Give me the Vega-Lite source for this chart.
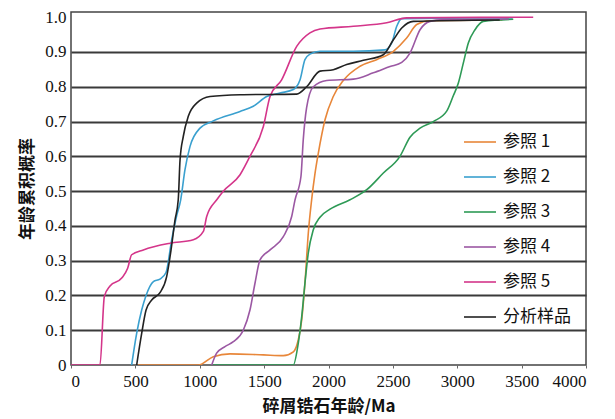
{
  "$schema": "https://vega.github.io/schema/vega-lite/v6.json",
  "width": 515,
  "height": 353,
  "autosize": "none",
  "padding": {"left": 71, "top": 12, "right": 29, "bottom": 54},
  "background": "white",
  "config": {
    "view": {"stroke": "#444", "strokeWidth": 1.5},
    "axis": {"labelFont": "Liberation Serif", "labelFontSize": 17, "labelColor": "#111", "titleFont": "Noto Sans CJK SC", "titleFontSize": 16, "titleFontWeight": "bold", "titleColor": "#111", "domain": false}
  },
  "data": {"values": [
    {"s": "参照 1", "x": 520, "y": 0}, {"s": "参照 1", "x": 990, "y": 0}, {"s": "参照 1", "x": 1105, "y": 0.024}, {"s": "参照 1", "x": 1235, "y": 0.032}, {"s": "参照 1", "x": 1494, "y": 0.029}, {"s": "参照 1", "x": 1649, "y": 0.027}, {"s": "参照 1", "x": 1727, "y": 0.038}, {"s": "参照 1", "x": 1765, "y": 0.072}, {"s": "参照 1", "x": 1792, "y": 0.13}, {"s": "参照 1", "x": 1817, "y": 0.235}, {"s": "参照 1", "x": 1843, "y": 0.379}, {"s": "参照 1", "x": 1869, "y": 0.475}, {"s": "参照 1", "x": 1895, "y": 0.55}, {"s": "参照 1", "x": 1921, "y": 0.609}, {"s": "参照 1", "x": 1973, "y": 0.705}, {"s": "参照 1", "x": 2037, "y": 0.772}, {"s": "参照 1", "x": 2115, "y": 0.818}, {"s": "参照 1", "x": 2245, "y": 0.859}, {"s": "参照 1", "x": 2374, "y": 0.878}, {"s": "参照 1", "x": 2504, "y": 0.902}, {"s": "参照 1", "x": 2607, "y": 0.94}, {"s": "参照 1", "x": 2685, "y": 0.979}, {"s": "参照 1", "x": 2788, "y": 0.99}, {"s": "参照 1", "x": 3350, "y": 0.992},
    {"s": "参照 2", "x": 471, "y": 0}, {"s": "参照 2", "x": 510, "y": 0.091}, {"s": "参照 2", "x": 549, "y": 0.158}, {"s": "参照 2", "x": 583, "y": 0.2}, {"s": "参照 2", "x": 640, "y": 0.24}, {"s": "参照 2", "x": 691, "y": 0.247}, {"s": "参照 2", "x": 738, "y": 0.266}, {"s": "参照 2", "x": 782, "y": 0.36}, {"s": "参照 2", "x": 821, "y": 0.43}, {"s": "参照 2", "x": 852, "y": 0.475}, {"s": "参照 2", "x": 885, "y": 0.561}, {"s": "参照 2", "x": 924, "y": 0.628}, {"s": "参照 2", "x": 1002, "y": 0.681}, {"s": "参照 2", "x": 1105, "y": 0.702}, {"s": "参照 2", "x": 1313, "y": 0.729}, {"s": "参照 2", "x": 1416, "y": 0.744}, {"s": "参照 2", "x": 1520, "y": 0.772}, {"s": "参照 2", "x": 1623, "y": 0.782}, {"s": "参照 2", "x": 1727, "y": 0.792}, {"s": "参照 2", "x": 1779, "y": 0.82}, {"s": "参照 2", "x": 1817, "y": 0.878}, {"s": "参照 2", "x": 1856, "y": 0.894}, {"s": "参照 2", "x": 1934, "y": 0.902}, {"s": "参照 2", "x": 2193, "y": 0.902}, {"s": "参照 2", "x": 2440, "y": 0.906}, {"s": "参照 2", "x": 2491, "y": 0.926}, {"s": "参照 2", "x": 2530, "y": 0.974}, {"s": "参照 2", "x": 2569, "y": 0.996}, {"s": "参照 2", "x": 3430, "y": 0.998},
    {"s": "参照 3", "x": 1100, "y": 0}, {"s": "参照 3", "x": 1727, "y": 0}, {"s": "参照 3", "x": 1765, "y": 0.062}, {"s": "参照 3", "x": 1792, "y": 0.139}, {"s": "参照 3", "x": 1817, "y": 0.235}, {"s": "参照 3", "x": 1843, "y": 0.322}, {"s": "参照 3", "x": 1882, "y": 0.389}, {"s": "参照 3", "x": 1934, "y": 0.425}, {"s": "参照 3", "x": 2012, "y": 0.448}, {"s": "参照 3", "x": 2167, "y": 0.475}, {"s": "参照 3", "x": 2297, "y": 0.504}, {"s": "参照 3", "x": 2426, "y": 0.552}, {"s": "参照 3", "x": 2555, "y": 0.6}, {"s": "参照 3", "x": 2633, "y": 0.655}, {"s": "参照 3", "x": 2711, "y": 0.681}, {"s": "参照 3", "x": 2814, "y": 0.7}, {"s": "参照 3", "x": 2918, "y": 0.73}, {"s": "参照 3", "x": 2970, "y": 0.775}, {"s": "参照 3", "x": 3008, "y": 0.81}, {"s": "参照 3", "x": 3047, "y": 0.868}, {"s": "参照 3", "x": 3086, "y": 0.926}, {"s": "参照 3", "x": 3138, "y": 0.964}, {"s": "参照 3", "x": 3202, "y": 0.988}, {"s": "参照 3", "x": 3435, "y": 0.994},
    {"s": "参照 4", "x": 1093, "y": 0}, {"s": "参照 4", "x": 1131, "y": 0.034}, {"s": "参照 4", "x": 1196, "y": 0.053}, {"s": "参照 4", "x": 1261, "y": 0.067}, {"s": "参照 4", "x": 1338, "y": 0.1}, {"s": "参照 4", "x": 1390, "y": 0.158}, {"s": "参照 4", "x": 1429, "y": 0.235}, {"s": "参照 4", "x": 1468, "y": 0.302}, {"s": "参照 4", "x": 1546, "y": 0.331}, {"s": "参照 4", "x": 1649, "y": 0.369}, {"s": "参照 4", "x": 1714, "y": 0.427}, {"s": "参照 4", "x": 1740, "y": 0.475}, {"s": "参照 4", "x": 1786, "y": 0.542}, {"s": "参照 4", "x": 1804, "y": 0.648}, {"s": "参照 4", "x": 1830, "y": 0.74}, {"s": "参照 4", "x": 1882, "y": 0.8}, {"s": "参照 4", "x": 1986, "y": 0.818}, {"s": "参照 4", "x": 2193, "y": 0.822}, {"s": "参照 4", "x": 2348, "y": 0.84}, {"s": "参照 4", "x": 2478, "y": 0.858}, {"s": "参照 4", "x": 2569, "y": 0.87}, {"s": "参照 4", "x": 2633, "y": 0.897}, {"s": "参照 4", "x": 2711, "y": 0.964}, {"s": "参照 4", "x": 2788, "y": 0.988}, {"s": "参照 4", "x": 2892, "y": 0.993}, {"s": "参照 4", "x": 3400, "y": 0.995},
    {"s": "参照 5", "x": 0, "y": 0}, {"s": "参照 5", "x": 225, "y": 0}, {"s": "参照 5", "x": 259, "y": 0.197}, {"s": "参照 5", "x": 303, "y": 0.227}, {"s": "参照 5", "x": 394, "y": 0.25}, {"s": "参照 5", "x": 440, "y": 0.278}, {"s": "参照 5", "x": 471, "y": 0.317}, {"s": "参照 5", "x": 562, "y": 0.331}, {"s": "参照 5", "x": 769, "y": 0.35}, {"s": "参照 5", "x": 950, "y": 0.36}, {"s": "参照 5", "x": 1028, "y": 0.384}, {"s": "参照 5", "x": 1054, "y": 0.427}, {"s": "参照 5", "x": 1132, "y": 0.475}, {"s": "参照 5", "x": 1181, "y": 0.499}, {"s": "参照 5", "x": 1313, "y": 0.547}, {"s": "参照 5", "x": 1390, "y": 0.6}, {"s": "参照 5", "x": 1494, "y": 0.686}, {"s": "参照 5", "x": 1546, "y": 0.772}, {"s": "参照 5", "x": 1636, "y": 0.82}, {"s": "参照 5", "x": 1753, "y": 0.916}, {"s": "参照 5", "x": 1856, "y": 0.955}, {"s": "参照 5", "x": 1934, "y": 0.966}, {"s": "参照 5", "x": 2193, "y": 0.974}, {"s": "参照 5", "x": 2452, "y": 0.984}, {"s": "参照 5", "x": 2607, "y": 0.998}, {"s": "参照 5", "x": 3590, "y": 1.0},
    {"s": "分析样品", "x": 510, "y": 0}, {"s": "分析样品", "x": 549, "y": 0.091}, {"s": "分析样品", "x": 583, "y": 0.158}, {"s": "分析样品", "x": 627, "y": 0.187}, {"s": "分析样品", "x": 691, "y": 0.208}, {"s": "分析样品", "x": 743, "y": 0.254}, {"s": "分析样品", "x": 777, "y": 0.331}, {"s": "分析样品", "x": 808, "y": 0.417}, {"s": "分析样品", "x": 833, "y": 0.475}, {"s": "分析样品", "x": 847, "y": 0.59}, {"s": "分析样品", "x": 872, "y": 0.657}, {"s": "分析样品", "x": 911, "y": 0.715}, {"s": "分析样品", "x": 976, "y": 0.753}, {"s": "分析样品", "x": 1080, "y": 0.772}, {"s": "分析样品", "x": 1313, "y": 0.777}, {"s": "分析样品", "x": 1753, "y": 0.779}, {"s": "分析样品", "x": 1830, "y": 0.8}, {"s": "分析样品", "x": 1934, "y": 0.845}, {"s": "分析样品", "x": 2037, "y": 0.849}, {"s": "分析样品", "x": 2141, "y": 0.864}, {"s": "分析样品", "x": 2271, "y": 0.876}, {"s": "分析样品", "x": 2426, "y": 0.892}, {"s": "分析样品", "x": 2504, "y": 0.935}, {"s": "分析样品", "x": 2569, "y": 0.969}, {"s": "分析样品", "x": 2659, "y": 0.988}, {"s": "分析样品", "x": 3330, "y": 0.992}
  ]},
  "mark": {"type": "line", "interpolate": "monotone", "strokeWidth": 1.6, "clip": true},
  "encoding": {
    "x": {"field": "x", "type": "quantitative", "scale": {"domain": [0, 4000], "nice": false},
      "axis": {"values": [0, 500, 1000, 1500, 2000, 2500, 3000, 3500, 4000], "format": "d", "grid": false, "ticks": true, "tickSize": 3, "tickColor": "#666", "labelPadding": 5, "title": "碎屑锆石年龄/Ma", "titlePadding": 9, "titleFontSize": 17}},
    "y": {"field": "y", "type": "quantitative", "scale": {"domain": [0, 1.015], "nice": false, "zero": true},
      "axis": {"values": [0, 0.1, 0.2, 0.3, 0.4, 0.5, 0.6, 0.7, 0.8, 0.9, 1.0], "labelExpr": "datum.value == 0 ? '0' : format(datum.value, '.1f')", "grid": true, "gridColor": "#3a3a3a", "gridWidth": 2, "gridOpacity": {"condition": {"test": "datum.value >= 1 || datum.value == 0", "value": 0}, "value": 1}, "ticks": false, "labelPadding": 5, "title": "年龄累积概率", "titlePadding": 8, "titleFontSize": 17}},
    "color": {"field": "s", "type": "nominal",
      "scale": {"domain": ["参照 1", "参照 2", "参照 3", "参照 4", "参照 5", "分析样品"], "range": ["#E8873A", "#3AA0CF", "#2E9A56", "#9B58A3", "#D4358A", "#222222"]},
      "legend": {"title": null, "orient": "none", "legendX": 392, "legendY": 113, "symbolType": "stroke", "symbolSize": 1024, "symbolStrokeWidth": 1.6, "labelFont": "Noto Sans CJK SC", "labelFontSize": 17, "labelColor": "#111", "rowPadding": 10, "labelOffset": 6}}
  }
}
